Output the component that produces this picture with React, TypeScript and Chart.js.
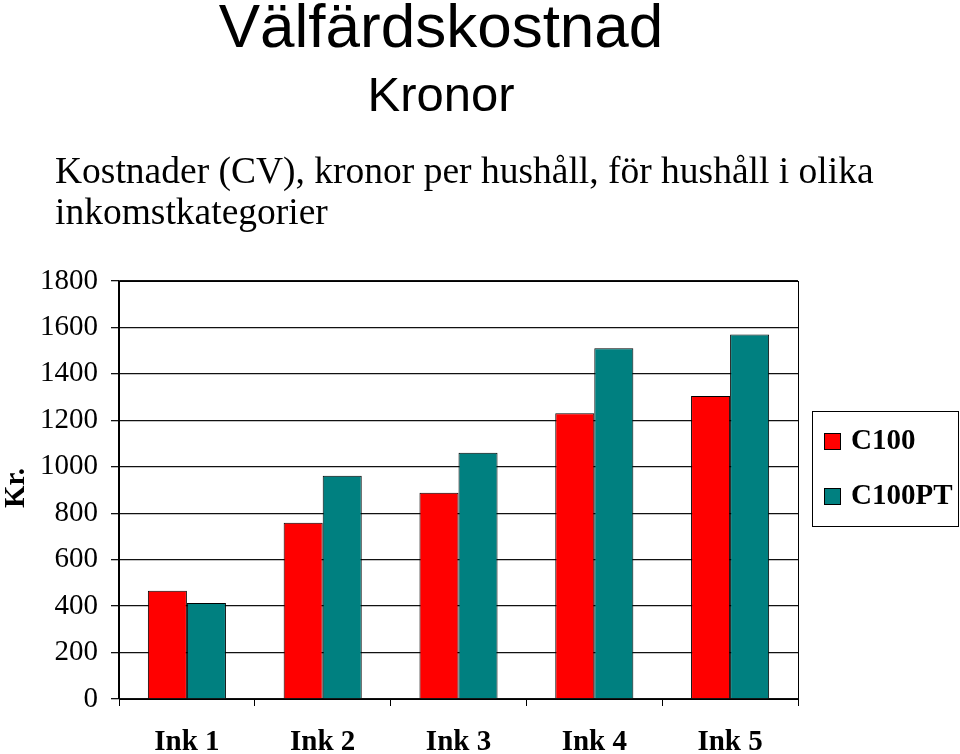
import React, { useEffect, useRef } from "react";
import { Chart, registerables } from "chart.js";

Chart.register(...registerables);

const categories = ["Ink 1", "Ink 2", "Ink 3", "Ink 4", "Ink 5"];
const c100 = [466, 759, 888, 1231, 1305];
const c100pt = [413, 961, 1060, 1510, 1570];
const seriesNames = ["C100", "C100PT"];
const yTicks = [0, 200, 400, 600, 800, 1000, 1200, 1400, 1600, 1800];
const title = "Välfärdskostnad";
const subtitle = "Kronor";
const descLine1 = "Kostnader (CV), kronor per hushåll, för hushåll i olika";
const descLine2 = "inkomstkategorier";
const yLabel = "Kr.";

const SERIF = '"Liberation Serif", "Times New Roman", serif';
const SANS = '"Liberation Sans", Arial, sans-serif';

const decorPlugin = {
  id: "decor",
  afterDraw(chart: any) {
    const ctx = chart.ctx;
    const ca = chart.chartArea;
    ctx.save();
    ctx.strokeStyle = "#000";
    ctx.lineWidth = 1;
    ctx.strokeRect(Math.round(ca.left) + 0.5, Math.round(ca.top) + 0.5, Math.round(ca.right - ca.left), Math.round(ca.bottom - ca.top));

    ctx.fillStyle = "#000";
    ctx.textAlign = "center";
    ctx.textBaseline = "alphabetic";
    ctx.font = `62px ${SANS}`;
    ctx.fillText(title, 441, 47);
    ctx.font = `49px ${SANS}`;
    ctx.fillText(subtitle, 441, 111);

    ctx.textAlign = "left";
    ctx.font = `37.5px ${SERIF}`;
    ctx.fillText(descLine1, 55, 183);
    ctx.fillText(descLine2, 55, 224);

    ctx.save();
    ctx.translate(24, 488);
    ctx.rotate(-Math.PI / 2);
    ctx.textAlign = "center";
    ctx.font = `bold 29px ${SERIF}`;
    ctx.fillText(yLabel, 0, 0);
    ctx.restore();

    const lx = 812, ly = 411, lw = 146, lh = 115;
    ctx.fillStyle = "#fff";
    ctx.fillRect(lx, ly, lw, lh);
    ctx.strokeStyle = "#000";
    ctx.strokeRect(lx + 0.5, ly + 0.5, lw, lh);
    const rows = [441, 496];
    chart.data.datasets.forEach((ds: any, i: number) => {
      const cy = rows[i];
      ctx.fillStyle = ds.backgroundColor;
      ctx.fillRect(824, cy - 8, 16, 16);
      ctx.strokeStyle = "#000";
      ctx.strokeRect(824.5, cy - 7.5, 16, 16);
      ctx.fillStyle = "#000";
      ctx.font = `bold 29px ${SERIF}`;
      ctx.textAlign = "left";
      ctx.textBaseline = "middle";
      ctx.fillText(ds.label, 851, cy + 1);
    });
    ctx.restore();
  },
};

export default function App() {
  const ref = useRef<HTMLCanvasElement>(null);
  useEffect(() => {
    if (!ref.current) return;
    const chart = new Chart(ref.current, {
      type: "bar",
      data: {
        labels: categories,
        datasets: [
          {
            label: seriesNames[0],
            data: c100,
            backgroundColor: "#FF0000",
            borderColor: "#000",
            borderWidth: 1,
            barPercentage: 1,
            categoryPercentage: 0.575,
          },
          {
            label: seriesNames[1],
            data: c100pt,
            backgroundColor: "#008080",
            borderColor: "#000",
            borderWidth: 1,
            barPercentage: 1,
            categoryPercentage: 0.575,
          },
        ],
      },
      options: {
        responsive: false,
        animation: false,
        layout: { padding: { left: 0, right: 162, top: 281, bottom: 0 } },
        plugins: { legend: { display: false }, tooltip: { enabled: false } },
        scales: {
          x: {
            afterFit: (s: any) => { s.height = 55; },
            grid: { drawOnChartArea: false, drawTicks: true, tickLength: 7, color: "#000", offset: true },
            border: { color: "#000", width: 1 },
            ticks: { color: "#000", font: { family: SERIF, size: 29, weight: "bold" }, padding: 19, maxRotation: 0 },
          },
          y: {
            min: 0,
            max: 1800,
            afterFit: (s: any) => { s.width = 119; },
            afterBuildTicks: (s: any) => { s.ticks = yTicks.map((v) => ({ value: v })); },
            grid: { color: "#111", lineWidth: 1.3, tickLength: 8 },
            border: { color: "#000", width: 1.3 },
            ticks: {
              color: "#000",
              font: { family: SERIF, size: 29 },
              padding: 13,
              callback: (v: any) => String(v),
            },
          },
        },
      },
      plugins: [decorPlugin],
    });
    return () => chart.destroy();
  }, []);
  return (
    <canvas
      ref={ref}
      width={960}
      height={754}
      style={{ position: "fixed", left: 0, top: 0, width: 960, height: 754, background: "#fff" }}
    />
  );
}
